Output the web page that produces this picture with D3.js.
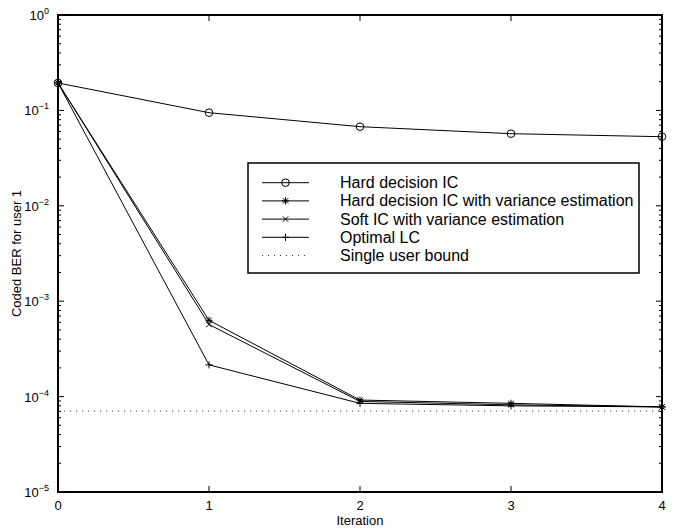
<!DOCTYPE html>
<html>
<head>
<meta charset="utf-8">
<script src="https://cdn.jsdelivr.net/npm/d3@7"></script>
<style>
  html, body { margin: 0; padding: 0; background: #fff; }
  svg { display: block; font-family: Arial, "Liberation Sans", Helvetica, sans-serif; }
</style>
</head>
<body>
<svg id="chart" width="680" height="528"></svg>
<script>
// ---- data ----
const iterations = [0, 1, 2, 3, 4];
const hardIC   = [0.194, 0.0946, 0.0675, 0.057, 0.053];
const hardVar  = [0.194, 6.3e-4, 9.2e-5, 8.5e-5, 7.8e-5];
const softVar  = [0.194, 5.7e-4, 8.9e-5, 8.2e-5, 7.8e-5];
const optimal  = [0.194, 2.15e-4, 8.5e-5, 8.0e-5, 7.8e-5];
const singleUserBound = 7.06e-5;
const seriesNames = ["Hard decision IC", "Hard decision IC with variance estimation",
                     "Soft IC with variance estimation", "Optimal LC", "Single user bound"];
const yTickExps = [0, -1, -2, -3, -4, -5];
const xLabel = "Iteration";
const yLabel = "Coded BER for user 1";

// ---- layout ----
const svg = d3.select("#chart");
const L = 58, T = 15, R = 662, B = 492;
const x = d3.scaleLinear().domain([0, 4]).range([L, R]);
const y = d3.scaleLog().domain([1e-5, 1]).range([B, T]);

// minor ticks
const minor = [];
for (let e = -5; e < 0; e++) for (let m = 2; m <= 9; m++) minor.push(m * Math.pow(10, e));

const g = svg.append("g");

// left/right ticks (inward)
const tickG = g.append("g").attr("stroke", "#000").attr("stroke-width", 1);
minor.forEach(v => {
  tickG.append("line").attr("x1", L).attr("x2", L + 3).attr("y1", y(v)).attr("y2", y(v));
  tickG.append("line").attr("x1", R).attr("x2", R - 3).attr("y1", y(v)).attr("y2", y(v));
});
yTickExps.forEach(e => {
  const v = Math.pow(10, e);
  tickG.append("line").attr("x1", L).attr("x2", L + 6).attr("y1", y(v)).attr("y2", y(v));
  tickG.append("line").attr("x1", R).attr("x2", R - 6).attr("y1", y(v)).attr("y2", y(v));
});
iterations.forEach(v => {
  tickG.append("line").attr("x1", x(v)).attr("x2", x(v)).attr("y1", B).attr("y2", B - 6);
  tickG.append("line").attr("x1", x(v)).attr("x2", x(v)).attr("y1", T).attr("y2", T + 6);
});

// y tick labels
yTickExps.forEach(e => {
  const t = g.append("text").attr("x", L - 9).attr("y", y(Math.pow(10, e)) + 5)
    .attr("text-anchor", "end").attr("font-size", 13).attr("fill", "#000");
  t.append("tspan").text("10");
  t.append("tspan").attr("dy", -6).attr("font-size", 9).text(e === 0 ? "0" : "\u2212" + (-e));
});
// x tick labels
iterations.forEach(v => {
  g.append("text").attr("x", x(v)).attr("y", B + 18).attr("text-anchor", "middle")
    .attr("font-size", 13).attr("fill", "#000").text(v);
});
g.append("text").attr("x", (L + R) / 2).attr("y", B + 33).attr("text-anchor", "middle")
  .attr("font-size", 13).attr("fill", "#000").text(xLabel);
g.append("text").attr("transform", `translate(21,${(T + B) / 2}) rotate(-90)`)
  .attr("text-anchor", "middle").attr("font-size", 13).attr("fill", "#000").text(yLabel);

// bound
g.append("line").attr("x1", L).attr("x2", R)
  .attr("y1", y(singleUserBound)).attr("y2", y(singleUserBound))
  .attr("stroke", "#333").attr("stroke-width", 1).attr("stroke-dasharray", "1,5");

// markers
function marker(sel, type, cx, cy) {
  const s = 3.6;
  const m = sel.append("g").attr("transform", `translate(${cx},${cy})`)
    .attr("stroke", "#000").attr("stroke-width", 1).attr("fill", "none");
  if (type === "o") m.append("circle").attr("r", 3.8);
  if (type === "*" || type === "+") {
    m.append("line").attr("x1", -s).attr("x2", s).attr("y1", 0).attr("y2", 0);
    m.append("line").attr("x1", 0).attr("x2", 0).attr("y1", -s).attr("y2", s);
  }
  if (type === "*" || type === "x") {
    const d = s * 0.75;
    m.append("line").attr("x1", -d).attr("x2", d).attr("y1", -d).attr("y2", d);
    m.append("line").attr("x1", -d).attr("x2", d).attr("y1", d).attr("y2", -d);
  }
}

const series = [
  { vals: hardIC, m: "o" },
  { vals: hardVar, m: "*" },
  { vals: softVar, m: "x" },
  { vals: optimal, m: "+" }
];
const line = d3.line().x((d, i) => x(iterations[i])).y(d => y(d));
series.forEach(s => {
  g.append("path").attr("d", line(s.vals)).attr("fill", "none")
    .attr("stroke", "#000").attr("stroke-width", 1);
  s.vals.forEach((v, i) => marker(g, s.m, x(iterations[i]), y(v)));
});

// frame
g.append("rect").attr("x", L).attr("y", T).attr("width", R - L).attr("height", B - T)
  .attr("fill", "none").attr("stroke", "#000").attr("stroke-width", 2);

// legend
const lg = g.append("g");
const lx = 248, ly = 163, lw = 391, lh = 110;
lg.append("rect").attr("x", lx).attr("y", ly).attr("width", lw).attr("height", lh)
  .attr("fill", "#fff").attr("stroke", "#000").attr("stroke-width", 1.5);
const rowY = [182.7, 200.9, 219.1, 237.3, 255.5];
seriesNames.forEach((name, i) => {
  const ry = rowY[i];
  if (i < 4) {
    lg.append("line").attr("x1", 262).attr("x2", 309).attr("y1", ry).attr("y2", ry)
      .attr("stroke", "#000").attr("stroke-width", 1);
    marker(lg, series[i].m, 285.5, ry);
  } else {
    lg.append("line").attr("x1", 262).attr("x2", 309).attr("y1", ry).attr("y2", ry)
      .attr("stroke", "#333").attr("stroke-width", 1).attr("stroke-dasharray", "1,5");
  }
  lg.append("text").attr("x", 340).attr("y", ry + 5.5).attr("font-size", 16)
    .attr("fill", "#000").text(name);
});
</script>
</body>
</html>
